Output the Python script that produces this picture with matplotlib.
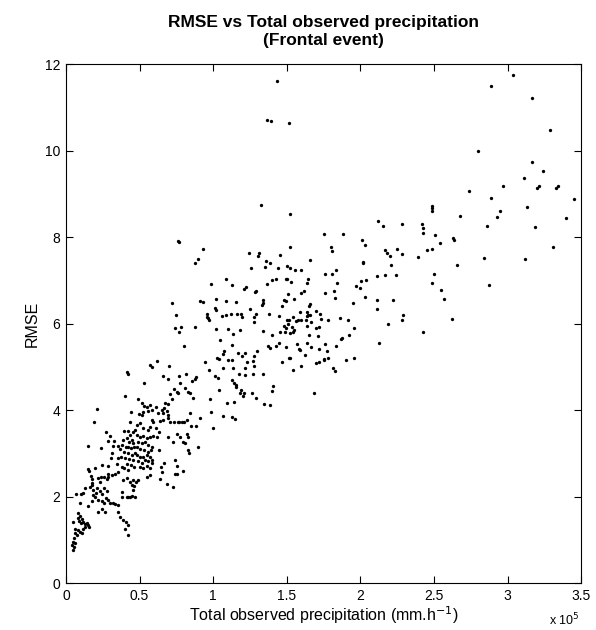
import numpy as np
import matplotlib
matplotlib.use("Agg")
import matplotlib.pyplot as plt

plt.rcParams['font.family'] = ['Liberation Sans', 'DejaVu Sans']

# total observed precipitation (x 1e5) vs RMSE
# lowest band, small totals
pts_low = [
    (0.156, 2.60), (0.17, 2.47), (0.174, 2.40), (0.179, 2.32), (0.174, 2.27),
    (0.22, 2.42), (0.231, 2.34), (0.238, 2.44), (0.26, 2.46), (0.277, 2.40),
    (0.288, 2.46), (0.283, 2.53), (0.31, 2.50), (0.333, 2.52), (0.356, 2.57),
    (0.39, 2.38), (0.412, 2.42), (0.435, 2.34), (0.446, 2.27), (0.458, 2.38),
    (0.129, 2.19), (0.163, 2.23), (0.186, 2.15), (0.202, 2.07), (0.209, 2.19),
    (0.231, 2.13), (0.242, 2.06), (0.26, 2.19), (0.277, 2.13),
    (0.066, 2.06), (0.102, 2.06), (0.118, 2.09),
    (0.186, 2.04), (0.197, 1.995), (0.22, 1.93), (0.242, 1.90), (0.26, 1.86),
    (0.27, 1.96), (0.288, 1.92), (0.299, 1.84), (0.322, 1.86), (0.333, 1.83),
    (0.351, 1.80), (0.378, 2.11), (0.383, 1.995), (0.412, 1.98), (0.424, 1.98),
    (0.435, 1.98), (0.446, 2.01), (0.458, 2.15), (0.465, 2.24),
    (0.095, 1.84), (0.152, 1.78), (0.174, 1.90),
    (0.22, 1.65), (0.247, 1.70), (0.265, 1.65),
    (0.356, 1.65), (0.367, 1.53), (0.39, 1.46), (0.406, 1.42), (0.424, 1.34),
    (0.401, 1.26), (0.424, 1.11),
    (0.084, 1.61), (0.095, 1.55), (0.079, 1.50), (0.088, 1.44), (0.107, 1.47),
    (0.118, 1.42), (0.129, 1.36), (0.141, 1.38), (0.152, 1.34), (0.156, 1.30),
    (0.102, 1.38), (0.05, 1.42), (0.061, 1.26), (0.084, 1.23), (0.095, 1.19),
    (0.107, 1.15), (0.118, 1.24), (0.129, 1.29), (0.061, 1.15), (0.073, 1.11),
    (0.057, 1.03), (0.05, 0.955), (0.043, 0.88), (0.057, 0.84), (0.05, 0.76),
    (0.061, 0.92),
]

# dense cluster around 0.3 - 0.9
pts_dense = [
    (0.412, 4.89), (0.419, 4.83), (0.401, 4.32), (0.213, 4.02), (0.442, 3.95),
    (0.190, 3.73), (0.435, 3.73), (0.27, 3.48), (0.299, 3.40), (0.288, 3.28),
    (0.329, 3.28), (0.322, 3.17), (0.356, 3.17), (0.367, 3.09), (0.397, 3.51),
    (0.424, 3.51), (0.435, 3.42), (0.458, 3.48),
    (0.39, 3.31), (0.412, 3.35), (0.428, 3.27), (0.446, 3.31), (0.458, 3.23),
    (0.383, 3.19), (0.406, 3.15), (0.424, 3.14), (0.442, 3.12), (0.465, 3.14),
    (0.397, 3.04), (0.419, 3.00), (0.446, 2.96), (0.469, 3.00), (0.374, 2.92),
    (0.401, 2.88), (0.428, 2.86), (0.453, 2.84), (0.412, 2.75), (0.442, 2.73),
    (0.465, 2.69), (0.378, 2.69), (0.397, 2.65), (0.424, 2.61),
    (0.148, 3.17), (0.238, 3.12), (0.311, 3.01), (0.356, 2.90), (0.306, 2.90),
    (0.344, 2.75), (0.288, 2.70), (0.247, 2.73), (0.197, 2.65), (0.152, 2.63),
    (0.571, 5.04), (0.587, 5.00), (0.616, 5.14), (0.700, 5.02), (0.532, 4.62),
    (0.661, 4.78), (0.695, 4.71), (0.768, 4.79), (0.813, 4.83), (0.881, 4.77),
    (0.859, 4.68), (0.877, 4.71), (0.775, 4.63),
    (0.736, 4.48), (0.752, 4.42), (0.763, 4.40), (0.809, 4.50), (0.827, 4.42),
    (0.843, 4.40), (0.707, 4.37), (0.723, 4.25), (0.695, 4.14), (0.673, 4.17),
    (0.866, 4.27),
    (0.487, 4.25), (0.514, 4.17), (0.532, 4.09), (0.548, 4.06), (0.571, 4.11),
    (0.560, 3.98), (0.526, 3.96), (0.587, 4.00), (0.609, 4.08), (0.627, 3.92),
    (0.650, 4.00), (0.668, 4.04), (0.661, 3.92), (0.684, 3.98), (0.695, 3.88),
    (0.496, 3.91), (0.519, 3.88), (0.582, 3.78), (0.594, 3.73), (0.639, 3.75),
    (0.661, 3.78), (0.695, 3.81), (0.707, 3.73), (0.736, 3.72), (0.759, 3.72),
    (0.768, 3.72), (0.786, 3.72), (0.804, 3.72), (0.820, 3.77),
    (0.843, 3.94), (0.911, 3.81), (0.849, 3.63), (0.883, 3.63),
    (0.48, 3.65), (0.503, 3.69), (0.526, 3.58), (0.555, 3.54), (0.571, 3.61),
    (0.609, 3.58), (0.632, 3.50), (0.469, 3.54),
    (0.691, 3.38), (0.752, 3.45), (0.775, 3.38), (0.820, 3.45), (0.832, 3.38),
    (0.730, 3.25), (0.798, 3.27), (0.809, 3.23),
    (0.48, 3.42), (0.503, 3.38), (0.526, 3.40), (0.548, 3.35), (0.571, 3.38),
    (0.594, 3.40), (0.616, 3.38), (0.492, 3.27), (0.514, 3.23), (0.537, 3.25),
    (0.56, 3.19), (0.582, 3.14), (0.48, 3.14), (0.503, 3.09), (0.532, 3.08),
    (0.555, 3.04), (0.578, 3.08), (0.48, 2.96), (0.503, 2.92), (0.526, 2.91),
    (0.548, 2.96), (0.571, 2.92), (0.492, 2.81), (0.514, 2.77), (0.537, 2.84),
    (0.56, 2.81), (0.582, 2.84), (0.503, 2.69), (0.526, 2.65), (0.548, 2.71),
    (0.571, 2.65),
    (0.632, 3.07), (0.645, 2.68), (0.668, 2.78), (0.741, 2.84), (0.752, 2.70),
    (0.832, 3.07), (0.836, 3.01), (0.90, 3.14), (0.582, 2.78),
    (0.487, 2.38), (0.474, 2.34), (0.469, 1.995), (0.548, 2.46), (0.571, 2.50),
    (0.65, 2.57), (0.639, 2.40), (0.684, 2.29), (0.729, 2.23), (0.741, 2.52),
    (0.752, 2.53), (0.798, 2.60),
]

# middle range 0.7 - 1.6
pts_mid = [
    (0.761, 7.91), (0.77, 7.88), (0.93, 7.73), (0.90, 7.50), (0.88, 7.39),
    (1.241, 7.64), (1.312, 7.64), (1.307, 7.55), (1.524, 7.76), (1.456, 7.58),
    (1.357, 7.44), (1.384, 7.40), (1.354, 7.31), (1.255, 7.28), (1.502, 7.34),
    (1.52, 7.28), (1.556, 7.24), (1.44, 7.28), (1.085, 7.02), (1.126, 6.89),
    (0.987, 6.91), (1.40, 7.00), (1.425, 7.02), (1.366, 6.91), (1.495, 7.02),
    (1.504, 7.04), (1.53, 6.97), (1.207, 6.79), (1.225, 6.84), (1.282, 6.74),
    (1.291, 6.76), (1.509, 6.68), (1.483, 6.54), (1.497, 6.53), (1.55, 6.57),
    (0.91, 6.53), (0.93, 6.50), (1.019, 6.57), (1.087, 6.53), (1.155, 6.50),
    (1.339, 6.55), (1.334, 6.43), (1.248, 6.33), (1.47, 6.40), (0.722, 6.47),
    (1.015, 6.37), (1.019, 6.31), (1.063, 6.18), (1.088, 6.20), (1.118, 6.21),
    (1.16, 6.22), (1.19, 6.22), (1.196, 6.14), (0.956, 6.22), (0.96, 6.16),
    (0.967, 6.12), (0.974, 6.07), (0.75, 6.20), (1.28, 6.14), (1.275, 6.03),
    (1.293, 6.23), (1.337, 6.48), (1.38, 6.21), (1.447, 6.18),
    (1.50, 6.09), (1.517, 6.08), (1.54, 6.14), (1.565, 6.05), (1.578, 6.07),
    (1.48, 5.94), (1.493, 5.89), (1.509, 5.98), (1.536, 5.93), (1.551, 5.85),
    (1.454, 5.81), (1.486, 5.81), (1.522, 5.77), (1.54, 5.80),
    (0.74, 5.89), (0.766, 5.80), (0.784, 5.91), (0.88, 5.93),
    (1.017, 5.88), (1.10, 5.88), (1.183, 5.86), (1.339, 5.82), (1.40, 5.74),
    (1.047, 5.61), (1.128, 5.50), (1.132, 5.76), (1.373, 5.47), (1.388, 5.43),
    (1.427, 5.47), (1.45, 5.54), (1.497, 5.45), (1.57, 5.52), (1.585, 5.41),
    (0.80, 5.49), (1.076, 5.36), (1.069, 5.29), (1.026, 5.20), (1.042, 5.18),
    (1.167, 5.31), (1.198, 5.25), (1.216, 5.31), (1.30, 5.37), (1.099, 5.15),
    (1.13, 5.16), (1.232, 5.12), (1.28, 5.24), (1.273, 5.13), (1.275, 5.02),
    (0.944, 5.10), (1.513, 5.20), (1.52, 5.20), (1.47, 5.10), (1.543, 4.92),
    (0.972, 4.92), (1.013, 4.79), (1.065, 4.98), (1.031, 4.73),
    (1.126, 4.70), (1.142, 4.63), (1.155, 4.58), (1.157, 4.54),
    (1.135, 4.96), (1.176, 4.83), (1.219, 4.96), (1.216, 4.82),
    (1.268, 4.84), (1.337, 4.83), (1.409, 4.56), (1.40, 4.45),
    (1.192, 4.46), (1.183, 4.40), (1.208, 4.39), (1.20, 4.32), (1.266, 4.40),
    (1.29, 4.28), (1.04, 4.46), (0.977, 4.26), (0.987, 3.95),
    (1.094, 4.17), (1.142, 4.19), (1.347, 4.15), (1.384, 4.11), (1.685, 4.39),
    (1.069, 3.86), (1.126, 3.83), (1.15, 3.80), (0.997, 3.58),
]

# upper range 1.3 - 2.5
pts_right = [
    (1.434, 11.6), (1.368, 10.71), (1.391, 10.68), (1.513, 10.63),
    (1.325, 8.75), (1.522, 8.53), (1.753, 8.08), (1.88, 8.08), (1.80, 7.77),
    (2.12, 8.38), (2.28, 8.29), (2.155, 8.25), (2.42, 8.30), (2.427, 8.20),
    (2.427, 8.09), (2.01, 7.92), (2.03, 7.82), (1.806, 7.67),
    (2.168, 7.70), (2.18, 7.64), (2.20, 7.57), (2.25, 7.72), (2.28, 7.60),
    (2.45, 7.69), (2.39, 7.53), (1.656, 7.47), (2.016, 7.43), (2.018, 7.39),
    (2.207, 7.36), (1.60, 7.23), (1.76, 7.14), (1.806, 7.14), (1.835, 7.23),
    (2.115, 7.10), (2.17, 7.13), (2.24, 7.11), (1.645, 7.02), (1.638, 6.94),
    (1.62, 6.75), (1.597, 6.70), (2.007, 6.99), (2.04, 7.00), (1.844, 6.94),
    (1.97, 6.87), (2.00, 6.81), (1.76, 6.71), (1.82, 6.75), (1.83, 6.60),
    (2.03, 6.61), (2.115, 6.54), (2.22, 6.54), (2.113, 6.33), (1.95, 6.47),
    (1.656, 6.45), (1.649, 6.40), (1.59, 6.27), (1.636, 6.27), (1.647, 6.20),
    (1.636, 6.18), (1.656, 6.20), (1.629, 6.08), (1.597, 6.08), (1.663, 6.03),
    (1.70, 6.29), (1.726, 6.21), (1.73, 6.10), (1.78, 6.09), (1.862, 6.13),
    (1.914, 6.07), (1.957, 5.90), (2.29, 6.20), (2.28, 6.07), (2.186, 5.98),
    (2.427, 5.80), (1.636, 5.94), (1.70, 5.90), (1.72, 5.93), (1.653, 5.73),
    (1.712, 5.71), (1.923, 5.73), (1.867, 5.64), (1.876, 5.66), (1.835, 5.47),
    (2.125, 5.54), (1.64, 5.54), (1.665, 5.45), (1.59, 5.39), (1.624, 5.28),
    (1.762, 5.53), (1.775, 5.37), (1.72, 5.40), (1.697, 5.09), (1.717, 5.12),
    (1.75, 5.15), (1.753, 5.18), (1.78, 5.20), (1.905, 5.15), (1.957, 5.21),
    (1.597, 5.02), (1.816, 4.96), (1.83, 4.91),
]

# largest totals, beyond 2.45
pts_far = [
    (3.038, 11.75), (2.89, 11.48), (3.165, 11.21), (3.29, 10.47), (2.80, 10.0),
    (3.165, 9.73), (3.24, 9.53), (3.11, 9.36), (2.97, 9.19), (3.215, 9.19),
    (3.20, 9.13), (3.34, 9.19), (3.33, 9.13), (2.74, 9.07), (3.45, 8.88),
    (2.886, 8.91), (3.13, 8.70), (2.95, 8.60), (2.675, 8.49), (2.93, 8.46),
    (3.40, 8.45), (2.86, 8.26), (3.185, 8.24), (2.487, 8.72), (2.487, 8.66),
    (2.487, 8.61), (2.51, 8.05), (2.63, 7.98), (2.637, 7.93), (2.54, 7.85),
    (2.487, 7.72), (3.31, 7.76), (2.84, 7.51), (3.12, 7.50), (2.66, 7.36),
    (2.50, 7.14), (2.487, 6.94), (2.877, 6.89), (2.55, 6.77), (2.57, 6.57),
    (2.625, 6.10),
]

x_ticks = [0, 0.5, 1, 1.5, 2, 2.5, 3, 3.5]
x_ticklabels = ['0', '0.5', '1', '1.5', '2', '2.5', '3', '3.5']
y_ticks = [0, 2, 4, 6, 8, 10, 12]

fig = plt.figure(figsize=(5.96, 6.30), dpi=100)
ax = fig.add_axes([0.1107, 0.0746, 0.8643, 0.8238])

for pts in (pts_low, pts_dense, pts_mid, pts_right, pts_far):
    xs, ys = np.array(pts).T
    ax.plot(xs, ys, 'o', color='k', markersize=2.4, markeredgewidth=0)

ax.set_xlim(0, 3.5)
ax.set_ylim(0, 12)
ax.set_xticks(x_ticks)
ax.set_xticklabels(x_ticklabels)
ax.set_yticks(y_ticks)
ax.tick_params(direction='in', top=True, right=True, length=5, width=0.8,
               labelsize=10, pad=4)
for s in ax.spines.values():
    s.set_linewidth(0.8)

ax.set_title("RMSE vs Total observed precipitation\n(Frontal event)",
             fontsize=12.5, fontweight='bold', pad=14, linespacing=1.25)
ax.set_xlabel("Total observed precipitation (mm.h$^{-1}$)", fontsize=11.5, labelpad=1)
ax.set_ylabel("RMSE", fontsize=11.5, labelpad=4)
fig.text(580 / 596, 5 / 630, "x 10$^{5}$", ha='right', va='baseline', fontsize=9)

fig.savefig("out.png", dpi=100, facecolor='white')
